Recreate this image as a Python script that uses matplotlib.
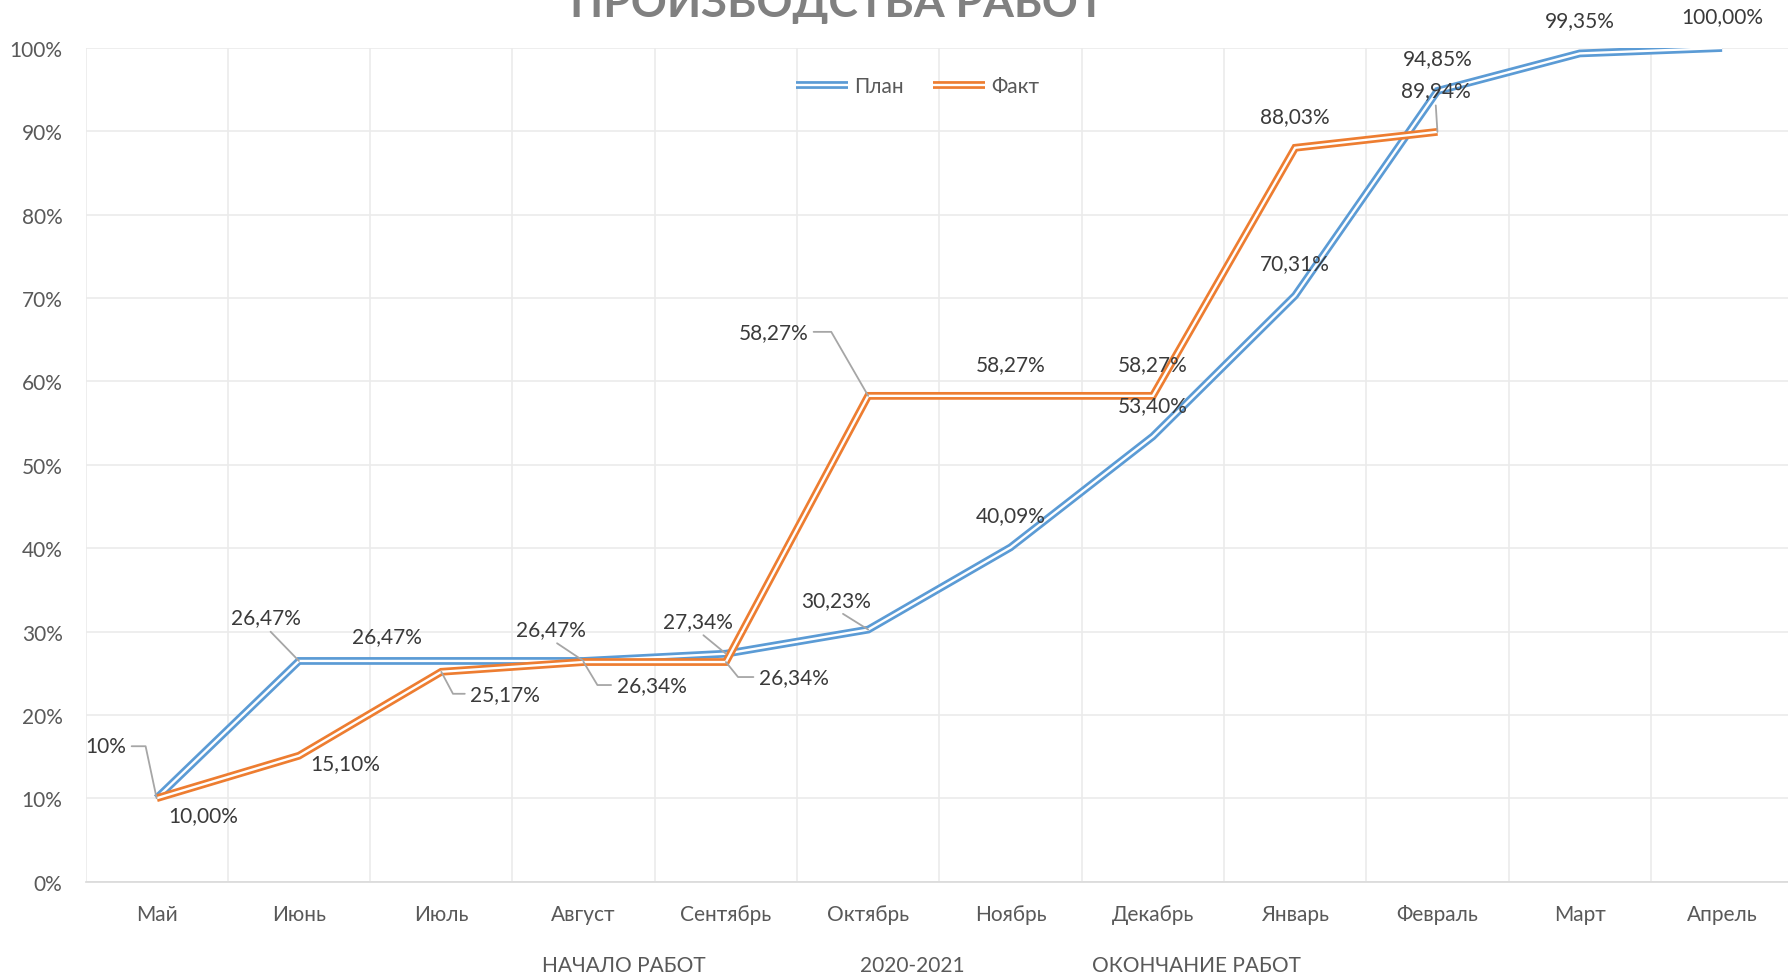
import matplotlib.pyplot as plt
from matplotlib.lines import Line2D
from matplotlib.legend_handler import HandlerTuple

plt.rcParams['font.family'] = ['Lato', 'DejaVu Sans']

# data
months = ['Май', 'Июнь', 'Июль', 'Август', 'Сентябрь', 'Октябрь',
          'Ноябрь', 'Декабрь', 'Январь', 'Февраль', 'Март', 'Апрель']
plan = [10.00, 26.47, 26.47, 26.47, 27.34, 30.23, 40.09, 53.40, 70.31, 94.85, 99.35, 100.00]
fact = [10.00, 15.10, 25.17, 26.34, 26.34, 58.27, 58.27, 58.27, 88.03, 89.94]
plan_labels = ['10%', '26,47%', '26,47%', '26,47%', '27,34%', '30,23%',
               '40,09%', '53,40%', '70,31%', '94,85%', '99,35%', '100,00%']
fact_labels = ['10,00%', '15,10%', '25,17%', '26,34%', '26,34%', '58,27%',
               '58,27%', '58,27%', '88,03%', '89,94%']
bottom_titles = ['НАЧАЛО РАБОТ', '2020-2021', 'ОКОНЧАНИЕ РАБОТ']

# label placement (pixels from point)
plan_off = [(-51, 52), (-33, 44), (-54, 25), (-33, 32), (-28, 33), (-32, 30),
            (0, 32), (0, 31), (0, 32), (0, 33), (0, 33), (0, 32)]
fact_off = [(47, -17), (46, -7), (64, -22), (68, -23), (68, -15), (-95, 64),
            (0, 32), (0, 32), (0, 32), (-2, 42)]
plan_lead = {0: ((1, 0.5), 'angle,angleA=0,angleB=102,rad=0'),
             1: ((0.5, 0), 'arc3'),
             3: ((0.5, 0), 'arc3'), 4: ((0.5, 0), 'arc3'), 5: ((0.5, 0), 'arc3')}
fact_lead = {2: ((0, 0.5), 'angle,angleA=0,angleB=-62,rad=0'),
             3: ((0, 0.5), 'angle,angleA=0,angleB=-59,rad=0'),
             4: ((0, 0.5), 'angle,angleA=0,angleB=-51,rad=0'),
             5: ((1, 0.5), 'angle,angleA=0,angleB=120,rad=0'),
             9: ((0.5, 0), 'arc3')}

blue = '#5B9BD5'
orange = '#ED7D31'
W, H = 1788, 978
fs = 15
lw_out, lw_in = 5.6, 1.7

fig = plt.figure(figsize=(W / 100, H / 100), dpi=100)
ax = fig.add_axes([85.5 / W, 95.4 / H, 1707.7 / W, 833.6 / H])

x_plan = list(range(len(plan)))
x_fact = list(range(len(fact)))


def double_line(x, y, color):
    ax.plot(x, y, color=color, lw=lw_out, solid_joinstyle='miter', solid_capstyle='butt', zorder=3)
    ax.plot(x, y, color='white', lw=lw_in, solid_joinstyle='miter', solid_capstyle='butt', zorder=3)


double_line(x_plan, plan, blue)
double_line(x_fact, fact, orange)


def put_labels(xs, ys, labels, offs, leads):
    for i, (x, y, t, o) in enumerate(zip(xs, ys, labels, offs)):
        kw = {}
        if i in leads:
            rel, cs = leads[i]
            kw['arrowprops'] = dict(arrowstyle='-', color='#A6A6A6', lw=1.3,
                                    shrinkA=2, shrinkB=0, relpos=rel,
                                    connectionstyle=cs)
        ax.annotate(t, (x, y), xytext=o, textcoords='offset pixels',
                    ha='center', va='center', fontsize=fs, color='#3A3A3A',
                    zorder=4, **kw)


put_labels(x_plan, plan, plan_labels, plan_off, plan_lead)
put_labels(x_fact, fact, fact_labels, fact_off, fact_lead)

ax.set_xlim(-0.5, len(months) - 0.5)
ax.set_ylim(0, 100)
ax.set_xticks(x_plan)
ax.set_xticklabels(months)
ax.set_xticks([i - 0.5 for i in range(len(months) + 1)], minor=True)
ax.set_yticks(range(0, 101, 10))
ax.set_yticklabels([f'{v}%' for v in range(0, 101, 10)])
ax.tick_params(axis='both', which='both', length=0, labelsize=fs, colors='#595959')
ax.tick_params(axis='x', pad=16)
ax.tick_params(axis='y', pad=16.5)
ax.grid(axis='y', which='major', color='#EBEBEB', lw=1.2)
ax.grid(axis='x', which='minor', color='#EBEBEB', lw=1.2)
ax.grid(axis='x', which='major', visible=False)
for side in ['top', 'right', 'left']:
    ax.spines[side].set_visible(False)
ax.spines['bottom'].set_color('#D9D9D9')
ax.spines['bottom'].set_linewidth(1.2)
ax.set_axisbelow(True)

hp = (Line2D([], [], color=blue, lw=lw_out, solid_capstyle='butt'),
      Line2D([], [], color='white', lw=lw_in, solid_capstyle='butt'))
hf = (Line2D([], [], color=orange, lw=lw_out, solid_capstyle='butt'),
      Line2D([], [], color='white', lw=lw_in, solid_capstyle='butt'))
leg = fig.legend([hp, hf], ['План', 'Факт'], loc='center', bbox_to_anchor=(918 / W, 1 - 87 / H),
                 ncol=2, frameon=False, fontsize=fs, handlelength=2.5, handletextpad=0.3,
                 columnspacing=1.4, handler_map={tuple: HandlerTuple(ndivide=1)})
for t in leg.get_texts():
    t.set_color('#595959')

fig.text(837 / W, 1 - 17 / H, 'ПРОИЗВОДСТВА РАБОТ', ha='center', va='baseline',
         fontsize=32, fontweight='bold', color='#808080')
for xpos, t in zip([624, 912, 1196], bottom_titles):
    fig.text(xpos / W, 1 - 966 / H, t, ha='center', va='center', fontsize=fs, color='#595959')

fig.savefig('out.png', dpi=100)
